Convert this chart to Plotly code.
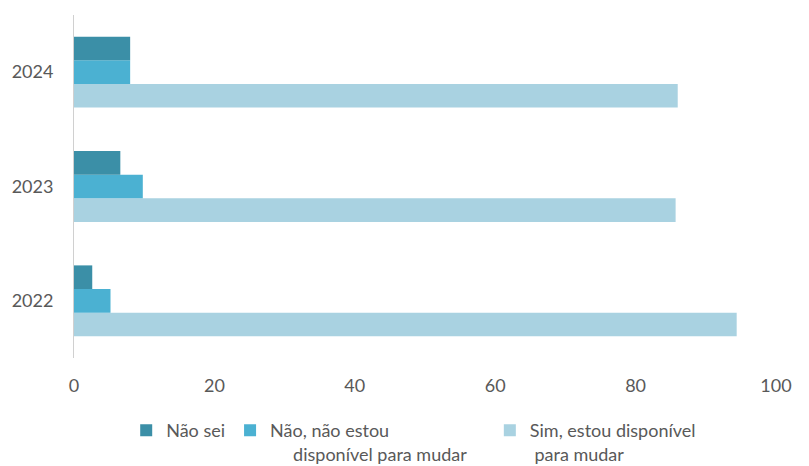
import plotly.graph_objects as go

years = ["2022", "2023", "2024"]
nao_sei = [2.6, 6.6, 8.0]
nao_estou = [5.2, 9.8, 8.0]
sim_estou = [94.4, 85.7, 86.0]

NB = "\u00a0"
names = ["Não sei",
         "Não, não estou<br>" + NB * 5 + "disponível para mudar" + NB * 4,
         "Sim, estou disponível<br>" + NB + "para mudar"]
colors = ["#3b8fa7", "#4bb1d2", "#a9d2e1"]

fig = go.Figure()
# add in reverse so "Não sei" sits on top within each group
for vals, name, col in [(sim_estou, names[2], colors[2]), (nao_estou, names[1], colors[1]), (nao_sei, names[0], colors[0])]:
    fig.add_trace(go.Bar(y=years, x=vals, orientation="h", name=name,
                         marker=dict(color=col, line=dict(width=0))))

fig.update_layout(
    width=809, height=466,
    margin=dict(l=74, r=33, t=15, b=108, autoexpand=False),
    plot_bgcolor="white", paper_bgcolor="white",
    barmode="group", bargap=0.38, bargroupgap=0,
    font=dict(family="Lato", size=18, color="#595959"),
    showlegend=True,
    legend=dict(orientation="h", traceorder="reversed",
                xref="container", yref="container",
                x=0.156, xanchor="left", y=0.116, yanchor="top",
                valign="top",
                font=dict(size=18, color="#595959"),
                itemwidth=30, tracegroupgap=0, bgcolor="rgba(0,0,0,0)"),
    xaxis=dict(range=[0, 100], tickvals=[0, 20, 40, 60, 80, 100], showgrid=False,
               zeroline=False, showline=False, ticks="", ticklabelstandoff=15,
               automargin=False),
    yaxis=dict(categoryorder="array", categoryarray=years, showgrid=False,
               showline=True, linecolor="#d0d0d0", linewidth=1, ticks="",
               ticklabelstandoff=16, range=[-0.5, 2.5], automargin=False),
)

fig.write_html("out.html", config={"displayModeBar": False},
               post_script="document.body.style.margin='0';")
